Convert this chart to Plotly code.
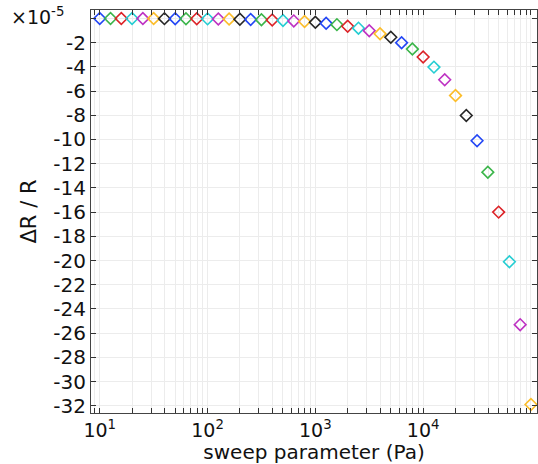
import math
import plotly.graph_objects as go

# sweep parameter (Pa)
pressure = [10, 12.59, 15.85, 19.95, 25.12, 31.62, 39.81, 50.12, 63.10, 79.43,
            100, 125.9, 158.5, 199.5, 251.2, 316.2, 398.1, 501.2, 631.0, 794.3,
            1000, 1259, 1585, 1995, 2512, 3162, 3981, 5012, 6310, 7943,
            10000, 12589, 15849, 19953, 25119, 31623, 39811, 50119, 63096, 79433, 100000]
# dR/R in units of 1e-5
dr_over_r = [-0.0032, -0.004, -0.005, -0.0064, -0.008, -0.010, -0.0127, -0.016, -0.020, -0.025,
             -0.032, -0.040, -0.051, -0.064, -0.080, -0.101, -0.127, -0.160, -0.201, -0.253,
             -0.32, -0.40, -0.51, -0.64, -0.80, -1.01, -1.27, -1.55, -2.0, -2.53,
             -3.18, -4.02, -5.06, -6.37, -8.02, -10.1, -12.7, -16.0, -20.1, -25.3, -31.9]

palette = ["#2346f5", "#3bb54a", "#dc2328", "#25cdd2", "#be32c3", "#fcbd2a", "#262626"]

y_ticks = list(range(-32, 1, 2))
y_labels = ["-%d" % (-v) if v != 0 else "" for v in y_ticks]

labelled_decades = [10, 100, 1000, 10000]
x_ticks = []
x_labels = []
for dec in [1, 10, 100, 1000, 10000]:
    for m in range(1, 10):
        v = m * dec
        x_ticks.append(v)
        if v in labelled_decades:
            x_labels.append("10<sup>%d</sup>" % round(math.log10(v)))
        else:
            x_labels.append("")
x_ticks.append(100000)
x_labels.append("")

colors = [palette[i % len(palette)] for i in range(len(pressure))]

fig = go.Figure()
fig.add_trace(go.Scatter(
    x=pressure, y=dr_over_r, mode="markers",
    marker=dict(symbol="diamond-open", size=9, color=colors,
                line=dict(color=colors, width=1.6)),
    showlegend=False, cliponaxis=False))

tick_font = dict(family="DejaVu Sans", size=20, color="#111")
xtick_font = dict(family="DejaVu Sans", size=19, color="#111")
title_font = dict(family="DejaVu Sans", size=20, color="#111")
fig.update_layout(
    width=538, height=464,
    margin=dict(l=91, r=1, t=10, b=51),
    plot_bgcolor="white", paper_bgcolor="white",
    font=tick_font,
    xaxis=dict(type="log", range=[0.919, 5.056],
               tickvals=x_ticks, ticktext=x_labels,
               ticks="inside", ticklen=5, tickcolor="#333",
               showline=True, linecolor="#444", linewidth=1, mirror="ticks",
               showgrid=True, gridcolor="#ececec", gridwidth=1,
               zeroline=False, tickfont=xtick_font,
               title=dict(text="sweep parameter (Pa)", font=title_font, standoff=2)),
    yaxis=dict(range=[-32.6, 0.7],
               tickvals=y_ticks, ticktext=y_labels,
               ticks="inside", ticklen=5, tickcolor="#333",
               showline=True, linecolor="#444", linewidth=1, mirror="ticks",
               showgrid=True, gridcolor="#ececec", gridwidth=1,
               zeroline=False, tickfont=tick_font,
               title=dict(text="ΔR / R", font=dict(family="DejaVu Sans", size=21, color="#111"),
                          standoff=10)),
)
fig.add_annotation(xref="paper", yref="paper", x=-0.056, y=0.985,
                   xanchor="right", yanchor="middle", showarrow=False,
                   text="×10<sup>-5</sup>", font=dict(family="DejaVu Sans", size=19, color="#111"))

fig.write_html("out.html")
